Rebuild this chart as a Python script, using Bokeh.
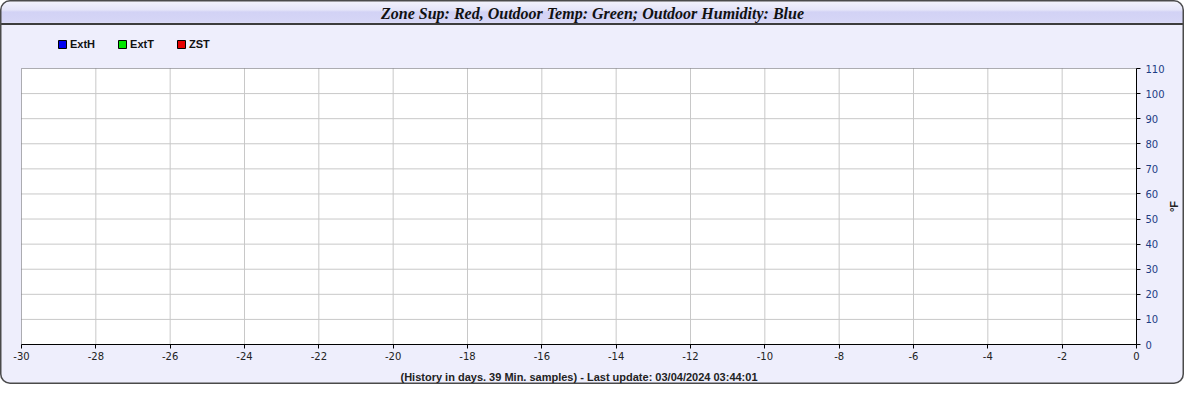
import math
from bokeh.plotting import figure
from bokeh.models import (ColumnDataSource, Legend, LegendItem, FixedTicker, Label,
                          BoxAnnotation, Range1d)
from bokeh.embed import file_html
from bokeh.resources import INLINE

# ---- chart content ----
title_text = "Zone Sup: Red, Outdoor Temp: Green; Outdoor Humidity: Blue"
x_label = "(History in days. 39 Min. samples) - Last update: 03/04/2024 03:44:01"
y_label = "°F"
series_names = ["ExtH", "ExtT", "ZST"]
series_colors = ["#0000f0", "#00e600", "#e60000"]
# the chart holds no samples
days = []
ext_h = []
ext_t = []
zst = []
x_ticks = [-30, -28, -26, -24, -22, -20, -18, -16, -14, -12, -10, -8, -6, -4, -2, 0]
y_ticks = [0, 10, 20, 30, 40, 50, 60, 70, 80, 90, 100, 110]

# ---- layout (canvas pixels) ----
W, H = 1184, 384
BG = "#eeeefc"
PL, PR, PT, PB = 21, 1136, 68, 344     # plotting area box
x0, x1 = x_ticks[0], x_ticks[-1]
y0, y1 = y_ticks[0], y_ticks[-1]
kx = (x1 - x0) / (PR - PL)
ky = (y1 - y0) / (PB - PT)
x_range = Range1d(x0 - PL * kx, x1 + (W - PR) * kx)
y_range = Range1d(y0 - (H - PB) * ky, y1 + PT * ky)

p = figure(width=W, height=H, x_range=x_range, y_range=y_range,
           output_backend="svg", toolbar_location=None, y_axis_location="right",
           min_border_left=0, min_border_right=0, min_border_top=0,
           min_border_bottom=0, border_fill_alpha=0, background_fill_alpha=0,
           outline_line_color=None)

p.styles = {
    "border-radius": "10px",
    "box-shadow": "inset 0 0 0 1.5px #4a4a4a",
    "background": ("linear-gradient(to bottom, #f4f4fc 0px, #e4e4f8 10px, "
                   "#d2d2f5 12px, #d6d6f6 22px, #e0e0f8 23px, #3c3c3c 23.5px, "
                   "#3c3c3c 25px, " + BG + " 25px, " + BG + " 100%)"),
}

# plotting area background
p.add_layout(BoxAnnotation(left=x0, right=x1, bottom=y0, top=y1, fill_color="white",
                           fill_alpha=1, line_color=None, level="image"))
p.grid.visible = False
gx = x_ticks[1:-1]
gy = y_ticks[1:-1]
p.segment(x0=gx, y0=[y0] * len(gx), x1=gx, y1=[y1] * len(gx),
          line_color="#c8c8c8", line_width=1)
p.segment(x0=[x0] * len(gy), y0=gy, x1=[x1] * len(gy), y1=gy,
          line_color="#c8c8c8", line_width=1)
p.add_layout(BoxAnnotation(left=x0, right=x1, bottom=y0, top=y1, fill_alpha=0,
                           line_color="black", line_width=1, level="annotation"))

# axes, fixed to the edges of the plotting area
xa, ya = p.xaxis[0], p.yaxis[0]
xa.fixed_location = y0
ya.fixed_location = x1
xa.bounds = (x0, x1)
ya.bounds = (y0, y1)
xa.ticker = FixedTicker(ticks=x_ticks)
ya.ticker = FixedTicker(ticks=y_ticks)
xa.major_label_overrides = {t: str(t) for t in x_ticks}
for ax in (xa, ya):
    ax.axis_line_color = "black"
    ax.major_tick_line_color = "black"
    ax.major_tick_out = 4
    ax.major_tick_in = 0
    ax.minor_tick_out = 0
    ax.minor_tick_in = 0
    ax.major_label_text_font = "DejaVu Sans"
    ax.major_label_text_font_size = "10px"
xa.major_label_text_color = "#222222"
xa.major_label_standoff = 3
ya.major_label_text_color = "#1c3c84"
ya.major_label_standoff = 5

# axis titles and chart title
p.add_layout(Label(x=(PL + PR) / 2, y=H - 376, x_units="screen", y_units="screen",
                   text=x_label, text_align="center", text_baseline="middle",
                   text_font="Liberation Sans", text_font_style="bold",
                   text_font_size="11px", text_color="#222222"))
p.add_layout(Label(x=1173, y=H - (PT + PB) / 2, x_units="screen", y_units="screen",
                   text=y_label, angle=math.pi / 2, text_align="center",
                   text_baseline="middle", text_font="Liberation Sans",
                   text_font_style="bold", text_font_size="11px",
                   text_color="#222222"))
p.add_layout(Label(x=W / 2, y=H - 12.5, x_units="screen", y_units="screen",
                   text=title_text, text_align="center", text_baseline="middle",
                   text_font="Liberation Serif", text_font_style="bold italic",
                   text_font_size="16px", text_color="#111111"))

# series (empty)
series_values = [ext_h, ext_t, zst]
items = []
for name, color, vals in zip(series_names, series_colors, series_values):
    src = ColumnDataSource(dict(x=list(days), y=list(vals)))
    p.line("x", "y", source=src, line_color=color, line_width=1.5)
    # legend key: a single undrawable (NaN) box, so the key swatch is rendered
    key_src = ColumnDataSource(dict(x=[float("nan")], y=[float("nan")]))
    r = p.quad(left="x", right="x", bottom="y", top="y", source=key_src,
               fill_color=color, line_color="black", line_width=1)
    items.append(LegendItem(label=name, renderers=[r]))

legend = Legend(items=items, orientation="horizontal",
                location=(57, H - 44 - 6),
                padding=0, margin=0, spacing=22, glyph_width=10, glyph_height=10,
                label_standoff=3, label_height=12,
                label_text_font="Liberation Sans", label_text_font_style="bold",
                label_text_font_size="11px", label_text_color="#111111",
                border_line_color=None, background_fill_alpha=0)
p.add_layout(legend, "center")

open("out.html", "w").write(file_html(p, INLINE))
